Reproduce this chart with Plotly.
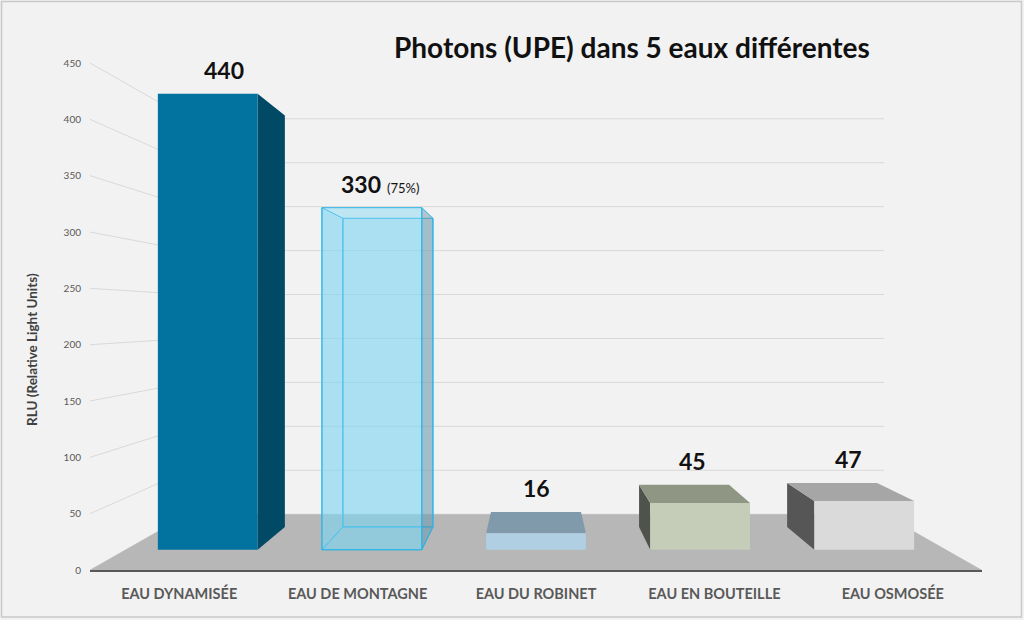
import plotly.graph_objects as go

categories = ["EAU DYNAMISÉE", "EAU DE MONTAGNE", "EAU DU ROBINET", "EAU EN BOUTEILLE", "EAU OSMOSÉE"]
values = [440, 330, 16, 45, 47]
extra_labels = ["", "(75%)", "", "", ""]
y_ticks = [0, 50, 100, 150, 200, 250, 300, 350, 400, 450]

# face colours (front, top, side) for each bar
front_col = ["#02729e", "rgba(125,212,242,0.45)", "#b1cfe3", "#c5cdb9", "#dadada"]
top_col = ["#0a5f80", "rgba(125,212,242,0.3)", "#8099ab", "#8f9784", "#a6a6a6"]
side_col = ["#004a66", "rgba(105,140,155,0.45)", "#5a6d78", "#50534b", "#565656"]
edge_col = [None, "#2cb4e8", None, None, None]

# fake perspective: vanishing point and depth scales (data units)
VX, VY = 2.0, 225
S_WALL = 0.78   # back wall
S_FRONT = 0.92  # front face of bars
S_BACK = 0.83   # back face of bars
HALF = 0.304    # half bar width


def proj(x, y, s):
    return VX + (x - VX) * s, VY + (y - VY) * s


def path(pts, close=True):
    p = "M " + " L ".join(f"{x:.4f},{y:.4f}" for x, y in pts)
    return p + (" Z" if close else "")


shapes = []

# back wall gridlines + diagonals to the tick labels
for v in y_ticks:
    pts = [proj(-0.5, v, 1), proj(-0.5, v, S_WALL), proj(4.5, v, S_WALL)]
    shapes.append(dict(type="path", path=path(pts, close=False), xref="x", yref="y",
                       line=dict(color="#d9d9d9", width=1), layer="above"))

# floor
floor = [proj(-0.5, 0, 1), proj(4.5, 0, 1), proj(4.5, 0, S_WALL), proj(-0.5, 0, S_WALL)]
shapes.append(dict(type="path", path=path(floor), xref="x", yref="y",
                   fillcolor="#b7b7b7", line=dict(width=0), layer="above"))


def face(pts, fill, line=None, width=0):
    shapes.append(dict(type="path", path=path(pts), xref="x", yref="y", fillcolor=fill,
                       line=dict(color=line or "rgba(0,0,0,0)", width=width), layer="above"))


for i, v in enumerate(values):
    x0, x1 = i - HALF, i + HALF
    f = [proj(x0, 0, S_FRONT), proj(x1, 0, S_FRONT), proj(x1, v, S_FRONT), proj(x0, v, S_FRONT)]
    b = [proj(x0, 0, S_BACK), proj(x1, 0, S_BACK), proj(x1, v, S_BACK), proj(x0, v, S_BACK)]
    lc = edge_col[i]
    lw = 1 if lc else 0
    if lc:
        # transparent box: draw the hidden faces too
        face(b, top_col[i], lc, lw)
        face([f[0], f[1], b[1], b[0]], top_col[i], lc, lw)
        face([f[0], f[3], b[3], b[0]], top_col[i], lc, lw)
    if i < VX:
        face([f[1], b[1], b[2], f[2]], side_col[i], lc, lw)
    elif i > VX:
        face([f[0], b[0], b[3], f[3]], side_col[i], lc, lw)
    if v < VY:
        face([f[3], f[2], b[2], b[3]], top_col[i], lc, lw)
    face(f, front_col[i], lc, lw)

# outer border
shapes.append(dict(type="rect", xref="paper", yref="paper",
                   x0=(1.5 - 90) / 892.5, x1=(1022 - 90) / 892.5,
                   y0=(570 - 617) / 507, y1=(570 - 1.5) / 507,
                   line=dict(color="#c9c9c9", width=1.5), layer="above"))

annotations = []
for i, v in enumerate(values):
    cx, _ = proj(i, 0, (S_FRONT + S_BACK) / 2)
    top = max(proj(i, v, S_FRONT)[1], proj(i, v, S_BACK)[1])
    txt = f"<b>{v}</b>"
    if extra_labels[i]:
        txt += f" <span style='font-size:13px'>{extra_labels[i]}</span>"
    annotations.append(dict(x=cx, y=top, xref="x", yref="y", text=txt, showarrow=False,
                            yanchor="bottom", yshift=8,
                            font=dict(family="Lato", size=23, color="#111111")))

annotations.append(dict(x=(632 - 90) / 892.5, y=(570 - 47) / 507, xref="paper", yref="paper",
                        text="<b>Photons (UPE) dans 5 eaux différentes</b>", showarrow=False,
                        xanchor="center", yanchor="middle",
                        font=dict(family="Lato", size=28, color="#111111")))
annotations.append(dict(x=(32 - 90) / 892.5, y=(570 - 350) / 507, xref="paper", yref="paper",
                        text="<b>RLU (Relative Light Units)</b>", showarrow=False, textangle=-90,
                        xanchor="center", yanchor="middle",
                        font=dict(family="Lato", size=13.5, color="#404040")))

# invisible trace so the axes exist
fig = go.Figure(go.Scatter(x=[0, 4], y=[0, 0], mode="markers", marker=dict(opacity=0),
                           hoverinfo="skip", showlegend=False))

fig.update_layout(
    width=1024,
    height=620,
    paper_bgcolor="#f2f2f2",
    plot_bgcolor="#f2f2f2",
    margin=dict(l=90, r=41.5, t=63, b=50, autoexpand=False),
    shapes=shapes,
    annotations=annotations,
    showlegend=False,
)
fig.update_xaxes(range=[-0.5, 4.5], tickvals=list(range(len(categories))),
                 ticktext=[f"<b>{c}</b>" for c in categories],
                 showgrid=False, zeroline=False, showline=True, linecolor="#595959", linewidth=1.5,
                 ticklabelstandoff=10, tickfont=dict(family="Lato", size=14.5, color="#595959"),
                 fixedrange=True)
fig.update_yaxes(range=[0, 450], tickvals=y_ticks, showgrid=False, zeroline=False,
                 ticklabelstandoff=8, tickfont=dict(family="Lato", size=10, color="#595959"),
                 fixedrange=True)

fig.write_html("out.html", config={"displayModeBar": False},
               post_script="document.body.style.margin='0';")
